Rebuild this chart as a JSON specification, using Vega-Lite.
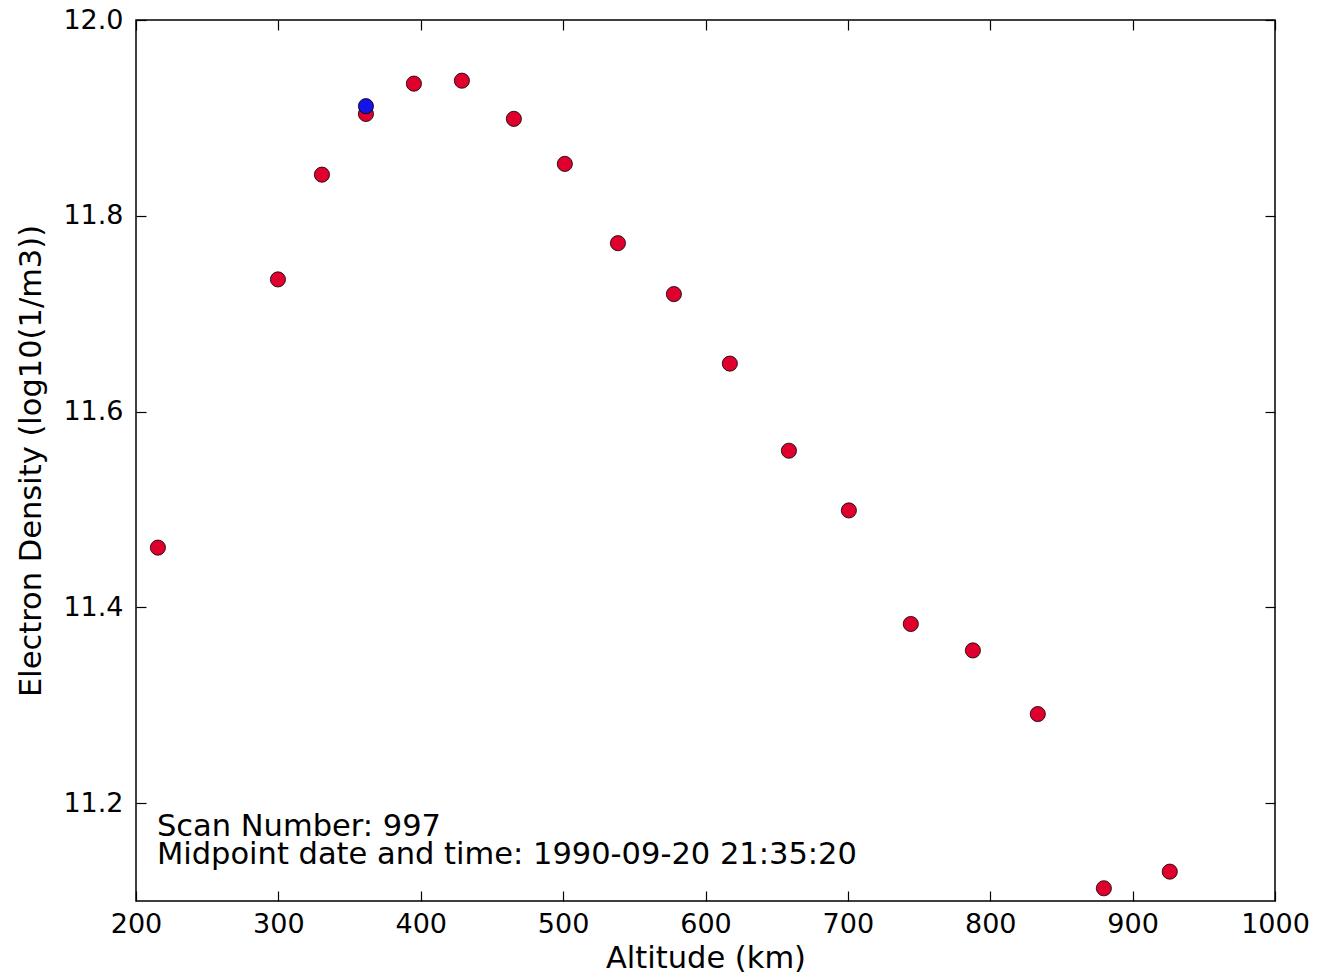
{
  "$schema": "https://vega.github.io/schema/vega-lite/v6.json",
  "autosize": "none",
  "width": 1139,
  "height": 881,
  "padding": {"left": 136, "top": 20, "right": 45, "bottom": 77},
  "background": "white",
  "config": {
    "view": {"stroke": "black", "strokeWidth": 1.5},
    "font": "DejaVu Sans",
    "axis": {
      "grid": false,
      "domain": false,
      "tickColor": "black",
      "tickSize": -10,
      "tickWidth": 1.2,
      "labelFlush": false,
      "labelOverlap": false,
      "labelFont": "DejaVu Sans",
      "labelFontSize": 27,
      "labelColor": "black",
      "titleFont": "DejaVu Sans",
      "titleFontSize": 30.5,
      "titleFontWeight": "normal",
      "titleColor": "black"
    }
  },
  "datasets": {
    "profile": [
      {"altitude": 215.4, "density": 11.461, "series": "red"},
      {"altitude": 299.7, "density": 11.735, "series": "red"},
      {"altitude": 330.6, "density": 11.842, "series": "red"},
      {"altitude": 361.5, "density": 11.912, "series": "blue"},
      {"altitude": 361.5, "density": 11.904, "series": "red"},
      {"altitude": 395.2, "density": 11.935, "series": "red"},
      {"altitude": 428.9, "density": 11.938, "series": "red"},
      {"altitude": 465.4, "density": 11.899, "series": "red"},
      {"altitude": 501.2, "density": 11.853, "series": "red"},
      {"altitude": 538.5, "density": 11.772, "series": "red"},
      {"altitude": 577.8, "density": 11.720, "series": "red"},
      {"altitude": 617.1, "density": 11.649, "series": "red"},
      {"altitude": 658.6, "density": 11.560, "series": "red"},
      {"altitude": 700.7, "density": 11.499, "series": "red"},
      {"altitude": 744.2, "density": 11.383, "series": "red"},
      {"altitude": 787.8, "density": 11.356, "series": "red"},
      {"altitude": 833.4, "density": 11.291, "series": "red"},
      {"altitude": 879.8, "density": 11.113, "series": "red"},
      {"altitude": 926.1, "density": 11.130, "series": "red"}
    ],
    "notes": [
      {"altitude": 214.7, "density": 11.166, "label": "Scan Number: 997|Midpoint date and time: 1990-09-20 21:35:20"}
    ]
  },
  "layer": [
    {
      "data": {"name": "profile"},
      "mark": {"type": "point", "filled": true, "size": 230, "stroke": "black", "strokeWidth": 0.8, "opacity": 1, "clip": true},
      "encoding": {
        "x": {
          "field": "altitude", "type": "quantitative",
          "scale": {"domain": [200, 1000], "nice": false, "zero": false},
          "axis": {"orient": "bottom", "title": "Altitude (km)", "format": "d", "values": [200, 300, 400, 500, 600, 700, 800, 900, 1000], "labelPadding": 20, "titlePadding": 6}
        },
        "y": {
          "field": "density", "type": "quantitative",
          "scale": {"domain": [11.1, 12.0], "nice": false, "zero": false},
          "axis": {"orient": "left", "title": "Electron Density (log10(1/m3))", "values": [11.2, 11.4, 11.6, 11.8, 12.0], "format": ".1f", "labelPadding": 23, "titlePadding": 16}
        },
        "color": {
          "field": "series", "type": "nominal",
          "scale": {"domain": ["blue", "red"], "range": ["#1414e6", "#e0002e"]},
          "legend": null
        },
        "order": {"field": "series", "sort": "descending"}
      }
    },
    {
      "data": {"name": "notes"},
      "mark": {"type": "text", "align": "left", "baseline": "alphabetic", "fontSize": 30.5, "lineBreak": "|", "lineHeight": 28, "font": "DejaVu Sans", "color": "black"},
      "encoding": {
        "x": {"field": "altitude", "type": "quantitative", "axis": {"orient": "top", "title": null, "labels": false, "values": [200, 300, 400, 500, 600, 700, 800, 900, 1000]}},
        "y": {"field": "density", "type": "quantitative", "axis": {"orient": "right", "title": null, "labels": false, "values": [11.2, 11.4, 11.6, 11.8, 12.0]}},
        "text": {"field": "label"}
      }
    }
  ],
  "resolve": {"axis": {"x": "independent", "y": "independent"}}
}
